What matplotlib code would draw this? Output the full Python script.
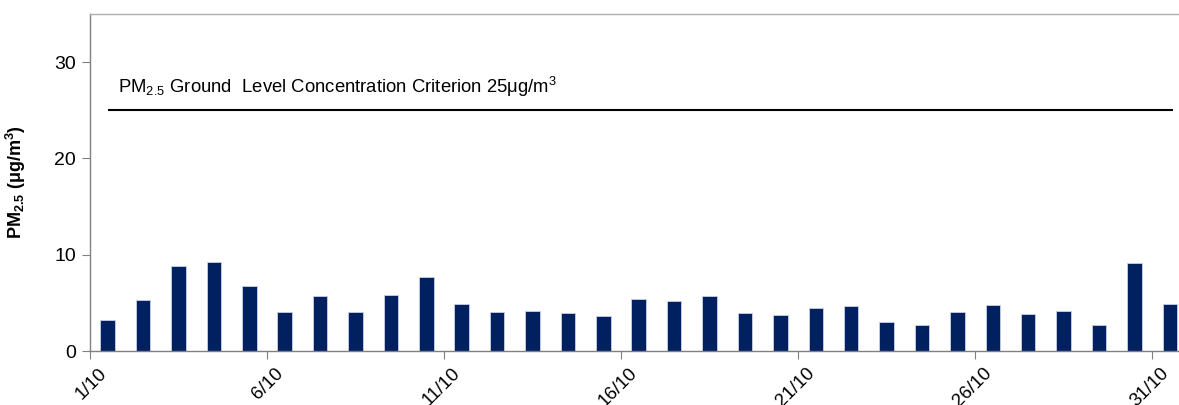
import matplotlib.pyplot as plt
import numpy as np
from matplotlib.transforms import ScaledTranslation

# Daily PM2.5 concentrations, October
days = [f"{d}/10" for d in range(1, 32)]
pm25 = [3.2, 5.3, 8.8, 9.25, 6.75, 4.1, 5.7, 4.1, 5.8, 7.65,
        4.85, 4.0, 4.2, 3.9, 3.6, 5.4, 5.2, 5.7, 3.9, 3.7,
        4.45, 4.65, 3.05, 2.75, 4.0, 4.75, 3.8, 4.2, 2.75, 9.1,
        4.85]
criterion = 25
tick_days = ["1/10", "6/10", "11/10", "16/10", "21/10", "26/10", "31/10"]

plt.rcParams["font.family"] = ["Liberation Sans", "DejaVu Sans"]
plt.rcParams["mathtext.fontset"] = "custom"
plt.rcParams["mathtext.rm"] = "Liberation Sans"
plt.rcParams["mathtext.bf"] = "Liberation Sans:bold"
plt.rcParams["mathtext.it"] = "Liberation Sans:italic"
plt.rcParams["mathtext.default"] = "regular"

fig = plt.figure(figsize=(11.79, 4.05), dpi=100)
ax = fig.add_axes([90 / 1179, 54 / 405, 1 - 90 / 1179, 337 / 405])

x = np.arange(len(days))
ax.bar(x, pm25, width=0.41, color="#00205f", edgecolor="#c8d0e4", linewidth=0.6, zorder=2)

# criterion line
ax.hlines(criterion, x[0], x[-1] + 0.1, color="black", linewidth=1.5, zorder=3)
ax.text(0.3, 27.4, "PM$_{2.5}$ Ground  Level Concentration Criterion 25\u03bcg/m$^3$",
        fontsize=13.3, va="center", ha="left")

ax.set_ylim(0, 35)
ax.set_xlim(-0.5, 30.26)
ax.set_yticks([0, 10, 20, 30])
ax.tick_params(axis="y", labelsize=14, length=6, color="#808080", pad=4)
ax.tick_params(axis="x", length=6, color="#808080", pad=3)

# ticks sit at the left edge of each category (Excel-like)
tick_pos = [days.index(d) - 0.5 for d in tick_days]
ax.set_xticks(tick_pos)
ax.set_xticklabels(tick_days, rotation=45, ha="right", va="top",
                   rotation_mode="anchor", fontsize=13.5)
# shift labels after tick_params, otherwise the pad resets the transform
offset = ScaledTranslation(0.08, -0.01, fig.dpi_scale_trans)
for lbl in ax.get_xticklabels():
    lbl.set_transform(lbl.get_transform() + offset)

ax.set_ylabel("PM$_{2.5}$ (\u03bcg/m$^3$)", fontsize=13, fontweight="bold")
ax.yaxis.set_label_coords(-0.057, 0.5)

for side in ["left", "bottom", "top"]:
    ax.spines[side].set_color("#808080")
    ax.spines[side].set_linewidth(1.0)
ax.spines["top"].set_color("#b0b0b0")
ax.spines["right"].set_visible(False)

plt.savefig("out.png", dpi=100)
plt.close()
